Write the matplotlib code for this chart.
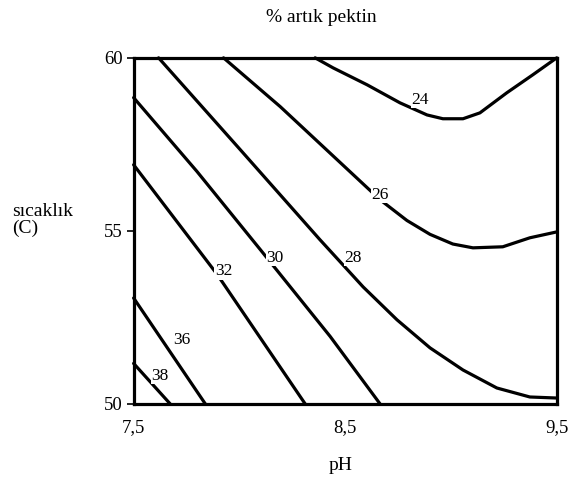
import matplotlib.pyplot as plt

plt.rcParams['font.family'] = ['Liberation Serif', 'DejaVu Serif']

# kontur egrileri: (pH, sicaklik) okunan noktalar
levels = [24, 26, 28, 30, 32, 36, 38]

ph_24 = [8.358, 8.443, 8.604, 8.759, 8.887, 8.962, 9.057, 9.137, 9.264, 9.387, 9.5]
t_24 = [60.0, 59.71, 59.22, 58.70, 58.35, 58.24, 58.24, 58.41, 58.99, 59.51, 60.0]

ph_26 = [7.925, 8.193, 8.665, 8.792, 8.901, 9.009, 9.104, 9.245, 9.373, 9.5]
t_26 = [60.0, 58.59, 55.90, 55.30, 54.90, 54.62, 54.51, 54.54, 54.80, 54.97]

ph_28 = [7.618, 8.005, 8.38, 8.585, 8.745, 8.901, 9.057, 9.217, 9.373, 9.5]
t_28 = [60.0, 57.34, 54.75, 53.38, 52.43, 51.62, 50.98, 50.46, 50.20, 50.17]

ph_30 = [7.5, 7.799, 8.10, 8.429, 8.665]
t_30 = [58.85, 56.72, 54.45, 51.95, 50.0]

ph_32 = [7.5, 7.894, 8.311]
t_32 = [56.91, 53.75, 50.0]

ph_36 = [7.5, 7.839]
t_36 = [53.06, 50.0]

ph_38 = [7.5, 7.673]
t_38 = [51.17, 50.0]

curves = [(ph_24, t_24), (ph_26, t_26), (ph_28, t_28), (ph_30, t_30),
          (ph_32, t_32), (ph_36, t_36), (ph_38, t_38)]

# etiket konumlari
label_ph = [8.854, 8.665, 8.539, 8.169, 7.925, 7.728, 7.626]
label_t = [58.79, 56.05, 54.22, 54.22, 53.83, 51.84, 50.82]

x_ticks = [7.5, 8.5, 9.5]
x_ticklabels = ['7,5', '8,5', '9,5']
y_ticks = [50, 55, 60]

fig = plt.figure(figsize=(5.71, 4.78), dpi=100)
ax = fig.add_axes([0.234, 0.155, 0.741, 0.724])

for (px, ty) in curves:
    ax.plot(px, ty, color='black', lw=2.3, solid_capstyle='round',
            solid_joinstyle='round', clip_on=False)

for lev, lx, ly in zip(levels, label_ph, label_t):
    ax.text(lx, ly, str(lev), fontsize=12.5, ha='center', va='center', zorder=5,
            bbox=dict(facecolor='white', edgecolor='none', pad=0.3))

ax.set_xlim(7.5, 9.5)
ax.set_ylim(50, 60)
ax.set_xticks(x_ticks)
ax.set_xticklabels(x_ticklabels)
ax.set_yticks(y_ticks)
ax.tick_params(axis='x', length=0, pad=11, labelsize=13.5)
ax.tick_params(axis='y', length=5, width=1.2, pad=3, labelsize=13.5)
for s in ax.spines.values():
    s.set_linewidth(2.3)

fig.text(0.562, 0.964, '% artık pektin', ha='center', va='center', fontsize=14)
fig.text(0.597, 0.027, 'pH', ha='center', va='center', fontsize=14)
fig.text(0.021, 0.54, 'sıcaklık\n(C)', ha='left', va='center', fontsize=14,
         linespacing=1.0)

fig.savefig('out.png', dpi=100)
